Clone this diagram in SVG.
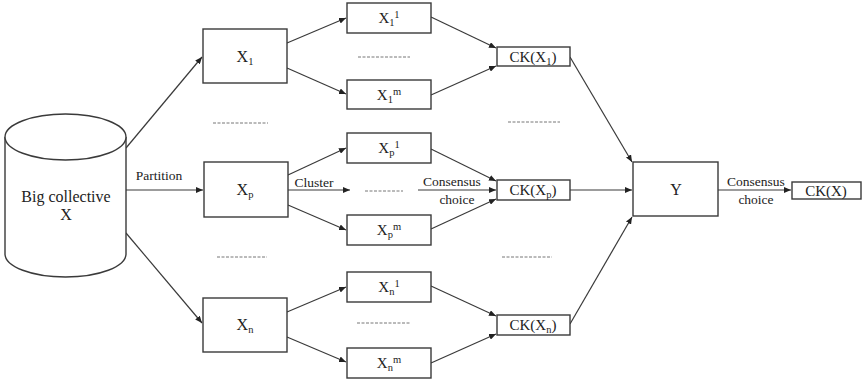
<svg xmlns="http://www.w3.org/2000/svg" width="865" height="383" viewBox="0 0 865 383" font-family="'Liberation Serif', 'Times New Roman', serif">
  <style>
    .box { fill: #ffffff; stroke: #3a3a3a; stroke-width: 1.4; }
    .cyl { fill: #ffffff; stroke: #3a3a3a; stroke-width: 1.4; }
    .edge { fill: none; stroke: #3a3a3a; stroke-width: 1.2; marker-end: url(#arrow); }
    .dots { fill: none; stroke: #777777; stroke-width: 1; stroke-dasharray: 3 1.5; }
    text { font-family: 'Liberation Serif', 'Times New Roman', serif; fill: #222222; text-anchor: middle; }
    .lbl { font-size: 16px; }
    .cl { font-size: 15px; }
    .sm { font-size: 13.5px; }
    .ck { font-size: 15px; }
    .sub { font-size: 10.5px; }
  </style>
  <defs>
    <marker id="arrow" markerWidth="8" markerHeight="6" refX="7" refY="3" orient="auto" markerUnits="userSpaceOnUse">
      <path d="M0,0 L7,3 L0,6 Z" fill="#222222"/>
    </marker>
  </defs>
  <rect width="865" height="383" fill="#ffffff"/>

  <!-- connectors -->
  <g id="connectors">
    <line class="edge" x1="126" y1="148" x2="202" y2="57"/>
    <line class="edge" x1="126" y1="190" x2="203" y2="190"/>
    <line class="edge" x1="126" y1="233" x2="202" y2="323"/>

    <line class="edge" x1="287" y1="43" x2="346" y2="18"/>
    <line class="edge" x1="287" y1="68" x2="346" y2="94"/>
    <line class="edge" x1="288" y1="175" x2="346" y2="148"/>
    <line class="edge" x1="288" y1="190" x2="350" y2="190"/>
    <line class="edge" x1="288" y1="205" x2="346" y2="230"/>
    <line class="edge" x1="287" y1="312" x2="346" y2="287"/>
    <line class="edge" x1="287" y1="337" x2="346" y2="362"/>

    <line class="edge" x1="431" y1="17" x2="496" y2="48"/>
    <line class="edge" x1="431" y1="95" x2="496" y2="66"/>
    <line class="edge" x1="431" y1="149" x2="496" y2="181"/>
    <line class="edge" x1="418" y1="190" x2="496" y2="190"/>
    <line class="edge" x1="431" y1="229" x2="496" y2="199"/>
    <line class="edge" x1="431" y1="286" x2="496" y2="316"/>
    <line class="edge" x1="431" y1="363" x2="496" y2="334"/>

    <line class="edge" x1="570" y1="57" x2="632" y2="162"/>
    <line class="edge" x1="570" y1="190" x2="632" y2="190"/>
    <line class="edge" x1="570" y1="324" x2="632" y2="217"/>

    <line class="edge" x1="718" y1="190" x2="791" y2="190"/>

    <!-- ellipsis rows -->
    <line class="dots" x1="213" y1="123" x2="268" y2="123"/>
    <line class="dots" x1="217" y1="257" x2="267" y2="257"/>
    <line class="dots" x1="358" y1="57" x2="410" y2="57"/>
    <line class="dots" x1="365" y1="191" x2="403" y2="191"/>
    <line class="dots" x1="357" y1="323" x2="410" y2="323"/>
    <line class="dots" x1="508" y1="122" x2="560" y2="122"/>
    <line class="dots" x1="502" y1="257" x2="552" y2="257"/>

    <!-- edge labels -->
    <text class="sm" x="159" y="180">Partition</text>
    <text class="sm" x="314" y="187">Cluster</text>
    <text class="sm" x="452" y="186">Consensus</text>
    <text class="sm" x="457" y="204">choice</text>
    <text class="sm" x="756" y="186">Consensus</text>
    <text class="sm" x="756" y="204">choice</text>
  </g>

  <!-- source collective -->
  <g id="big-collective">
    <path class="cyl" d="M5,137 L5,254 A60.5,23 0 0 0 126,254 L126,137"/>
    <ellipse class="cyl" cx="65.5" cy="137" rx="60.5" ry="23"/>
    <text class="lbl" x="66" y="202">Big collective</text>
    <text class="lbl" x="66" y="220">X</text>
  </g>

  <!-- partitions -->
  <g id="x1">
    <rect class="box" x="203" y="29" width="84" height="54"/>
    <text class="lbl" x="245" y="62">X<tspan class="sub" dy="3">1</tspan></text>
  </g>
  <g id="xp">
    <rect class="box" x="204" y="162" width="84" height="55"/>
    <text class="lbl" x="245" y="195">X<tspan class="sub" dy="3">p</tspan></text>
  </g>
  <g id="xn">
    <rect class="box" x="203" y="298" width="84" height="54"/>
    <text class="lbl" x="245" y="330">X<tspan class="sub" dy="3">n</tspan></text>
  </g>

  <!-- clusters -->
  <g id="x1-1">
    <rect class="box" x="347" y="3" width="84" height="30"/>
    <text class="cl" x="389" y="23">X<tspan class="sub" dy="3">1</tspan><tspan class="sub" dy="-8">1</tspan></text>
  </g>
  <g id="x1-m">
    <rect class="box" x="347" y="80" width="84" height="29"/>
    <text class="cl" x="389" y="100">X<tspan class="sub" dy="3">1</tspan><tspan class="sub" dy="-8">m</tspan></text>
  </g>
  <g id="xp-1">
    <rect class="box" x="347" y="133" width="84" height="30"/>
    <text class="cl" x="389" y="153">X<tspan class="sub" dy="3">p</tspan><tspan class="sub" dy="-8">1</tspan></text>
  </g>
  <g id="xp-m">
    <rect class="box" x="347" y="215" width="84" height="30"/>
    <text class="cl" x="389" y="235">X<tspan class="sub" dy="3">p</tspan><tspan class="sub" dy="-8">m</tspan></text>
  </g>
  <g id="xn-1">
    <rect class="box" x="347" y="272" width="84" height="30"/>
    <text class="cl" x="389" y="292">X<tspan class="sub" dy="3">n</tspan><tspan class="sub" dy="-8">1</tspan></text>
  </g>
  <g id="xn-m">
    <rect class="box" x="347" y="348" width="84" height="30"/>
    <text class="cl" x="389" y="368">X<tspan class="sub" dy="3">n</tspan><tspan class="sub" dy="-8">m</tspan></text>
  </g>

  <!-- consensus per partition -->
  <g id="ck-x1">
    <rect class="box" x="497" y="47" width="73" height="19"/>
    <text class="ck" x="533" y="62">CK(X<tspan class="sub" dy="3">1</tspan><tspan dy="-3">)</tspan></text>
  </g>
  <g id="ck-xp">
    <rect class="box" x="497" y="180" width="73" height="20"/>
    <text class="ck" x="533" y="195">CK(X<tspan class="sub" dy="3">p</tspan><tspan dy="-3">)</tspan></text>
  </g>
  <g id="ck-xn">
    <rect class="box" x="497" y="315" width="73" height="20"/>
    <text class="ck" x="533" y="330">CK(X<tspan class="sub" dy="3">n</tspan><tspan dy="-3">)</tspan></text>
  </g>

  <!-- aggregate and final consensus -->
  <g id="y">
    <rect class="box" x="633" y="162" width="85" height="54"/>
    <text class="lbl" x="676" y="195">Y</text>
  </g>
  <g id="ck-x">
    <rect class="box" x="792" y="182" width="69" height="17"/>
    <text class="ck" x="826" y="196">CK(X)</text>
  </g>
</svg>
